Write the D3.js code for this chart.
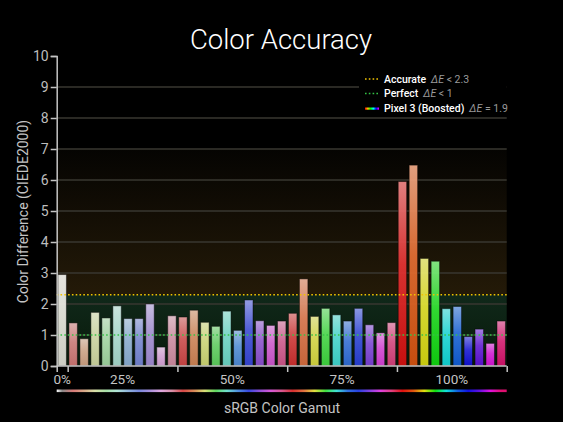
<!DOCTYPE html>
<html>
<head>
<meta charset="utf-8">
<script src="https://cdn.jsdelivr.net/npm/d3@7"></script>
<style>
  html, body { margin: 0; padding: 0; background: #000; }
  svg { display: block; }
  text { font-family: Roboto, "Noto Sans", sans-serif; }
</style>
</head>
<body>
<svg id="chart" width="563" height="422"></svg>
<script>
// ---------- data ----------
const gamutGroups = ["0%", "25%", "50%", "75%", "100%"];
const groupSizes = [1, 10, 10, 10, 10];
const deltaE = [
  2.95,
  1.39, 0.88, 1.73, 1.55, 1.94, 1.53, 1.53, 2.00, 0.61, 1.62,
  1.58, 1.80, 1.41, 1.28, 1.77, 1.15, 2.13, 1.46, 1.31, 1.45,
  1.70, 2.81, 1.60, 1.86, 1.65, 1.45, 1.86, 1.33, 1.07, 1.40,
  5.95, 6.48, 3.47, 3.38, 1.85, 1.92, 0.95, 1.19, 0.73, 1.45
];
const barColors = [
  "#e6e6dc",
  "#d87a78", "#d8a888", "#d8e0a8", "#a8e0a8", "#b0e4d8", "#90b4dc", "#7888dc", "#a890dc", "#e0a8e0", "#d890a8",
  "#d84848", "#d88858", "#d8e078", "#60d860", "#70e0d0", "#5090e0", "#3848e0", "#9050d8", "#d858d8", "#d85890",
  "#d83030", "#e07040", "#e0e040", "#40e040", "#40e0d8", "#3070e0", "#2840e0", "#8040e0", "#e040e0", "#e04080",
  "#e01010", "#e05510", "#e0e010", "#10e010", "#10e0e0", "#1060e0", "#1010e0", "#6010e0", "#e010e0", "#e01070"
];
const yTicks = [0, 1, 2, 3, 4, 5, 6, 7, 8, 9, 10];
const gridValues = [1, 2, 3, 4, 5, 6, 7, 8, 9];
const thresholds = { accurate: 2.3, perfect: 1 };
const legendItems = [
  { name: "Accurate", metric: " < 2.3", kind: "accurate" },
  { name: "Perfect", metric: " < 1", kind: "perfect" },
  { name: "Pixel 3 (Boosted)", metric: " = 1.9", kind: "device" }
];
const rainbow = ["#ff0000", "#ffcc00", "#00ff00", "#00ffff", "#0000ff", "#ff00ff"];

// ---------- layout ----------
const svg = d3.select("#chart");
const pL = 56.7, pR = 506.7, pT = 56, pB = 366;
const ids = deltaE.map((d, i) => "b" + i);

const y = d3.scaleLinear().domain([0, 10]).range([pB, pT]);
const x = d3.scaleBand().domain(ids).range([pL, pR]).paddingInner(0.23).paddingOuter(0.115);
const xi = d3.scaleLinear().domain([0, deltaE.length]).range([pL, pR]);

const defs = svg.append("defs");

// background zones
const gBrown = defs.append("linearGradient").attr("id", "bgBrown").attr("x1", 0).attr("x2", 0).attr("y1", 0).attr("y2", 1);
gBrown.append("stop").attr("offset", 0).attr("stop-color", "#050402");
gBrown.append("stop").attr("offset", 1).attr("stop-color", "#241a08");
const gGreen = defs.append("linearGradient").attr("id", "bgGreen").attr("x1", 0).attr("x2", 0).attr("y1", 0).attr("y2", 1);
gGreen.append("stop").attr("offset", 0).attr("stop-color", "#10281a");
gGreen.append("stop").attr("offset", 1).attr("stop-color", "#081a0a");

svg.append("rect").attr("x", pL).attr("width", pR - pL)
  .attr("y", y(7)).attr("height", y(thresholds.accurate) - y(7)).attr("fill", "url(#bgBrown)");
svg.append("rect").attr("x", pL).attr("width", pR - pL)
  .attr("y", y(thresholds.accurate)).attr("height", y(0) - y(thresholds.accurate)).attr("fill", "url(#bgGreen)");

// gridlines
svg.append("g").selectAll("line").data(gridValues).join("line")
  .attr("x1", pL).attr("x2", pR)
  .attr("y1", d => y(d)).attr("y2", d => y(d))
  .attr("stroke", "#393730").attr("stroke-width", 1.5);

// bar gradients
deltaE.forEach((d, i) => {
  const g = defs.append("linearGradient").attr("id", "bg" + i)
    .attr("x1", 0).attr("x2", 0).attr("y1", 0).attr("y2", 1);
  g.append("stop").attr("offset", 0).attr("stop-color", d3.interpolateRgb(barColors[i], "#ffffff")(0.5));
  g.append("stop").attr("offset", 0.45).attr("stop-color", d3.interpolateRgb(barColors[i], "#ffffff")(0.15));
  g.append("stop").attr("offset", 1).attr("stop-color", d3.color(barColors[i]).darker(0.15));
});

// bars
svg.append("g").selectAll("rect").data(deltaE).join("rect")
  .attr("x", (d, i) => x(ids[i]))
  .attr("width", x.bandwidth())
  .attr("y", d => y(d))
  .attr("height", d => y(0) - y(d))
  .attr("fill", (d, i) => `url(#bg${i})`)
  .attr("fill-opacity", 0.93)
  .attr("stroke", "rgba(0,0,0,0.45)")
  .attr("stroke-width", 1);

// reference lines
svg.append("line").attr("x1", pL).attr("x2", pR)
  .attr("y1", y(thresholds.accurate)).attr("y2", y(thresholds.accurate))
  .attr("stroke", "#f2c400").attr("stroke-width", 1.6).attr("stroke-dasharray", "1.6,2.2");
svg.append("line").attr("x1", pL).attr("x2", pR)
  .attr("y1", y(thresholds.perfect)).attr("y2", y(thresholds.perfect))
  .attr("stroke", "#34c246").attr("stroke-width", 1.6).attr("stroke-dasharray", "1.6,2.2");

// y axis
const yAxis = svg.append("g").attr("transform", `translate(${pL},0)`)
  .call(d3.axisLeft(y).tickValues(yTicks).tickSize(6).tickPadding(2).tickFormat(d3.format("d")));
yAxis.select(".domain").attr("stroke", "#c4c4c4").attr("stroke-width", 1.5);
yAxis.selectAll(".tick line").attr("stroke", "#c4c4c4").attr("stroke-width", 1.5);
yAxis.selectAll(".tick text").attr("fill", "#bdbdbd").attr("font-size", 14).attr("font-family", "Roboto, sans-serif");

// x axis: group boundaries
const bounds = [0];
groupSizes.forEach(s => bounds.push(bounds[bounds.length - 1] + s));
const xAxis = svg.append("g").attr("transform", `translate(0,${pB})`)
  .call(d3.axisBottom(xi).tickValues(bounds).tickSize(6).tickFormat(""));
xAxis.select(".domain").attr("stroke", "#c4c4c4").attr("stroke-width", 1.5).attr("d", `M${pL},0H${pR}`);
xAxis.selectAll(".tick line").attr("stroke", "#c4c4c4").attr("stroke-width", 1.5);

svg.append("g").selectAll("text").data(gamutGroups).join("text")
  .attr("x", (d, i) => (xi(bounds[i]) + xi(bounds[i + 1])) / 2)
  .attr("y", 383.5)
  .attr("text-anchor", "middle")
  .attr("fill", "#c4c4c4").attr("font-size", 13.5)
  .text(d => d);

// gamut colour strip
const gStrip = defs.append("linearGradient").attr("id", "strip")
  .attr("gradientUnits", "userSpaceOnUse").attr("x1", pL).attr("x2", pR).attr("y1", 0).attr("y2", 0);
gStrip.append("stop").attr("offset", 0).attr("stop-color", "#ffffff");
deltaE.forEach((d, i) => {
  const cx = x(ids[i]) + x.bandwidth() / 2;
  gStrip.append("stop").attr("offset", (cx - pL) / (pR - pL)).attr("stop-color", i === 0 ? "#888888" : barColors[i]);
});
svg.append("rect").attr("x", pL).attr("width", pR - pL).attr("y", 389.5).attr("height", 2.6).attr("fill", "url(#strip)");

// axis titles
svg.append("text").attr("x", 282).attr("y", 413).attr("text-anchor", "middle")
  .attr("fill", "#c4c4c4").attr("font-size", 14).text("sRGB Color Gamut");
svg.append("text").attr("transform", "translate(28,211.5) rotate(-90)").attr("text-anchor", "middle")
  .attr("fill", "#c4c4c4").attr("font-size", 14).text("Color Difference (CIEDE2000)");

// title
svg.append("text").attr("x", 281).attr("y", 48.5).attr("text-anchor", "middle")
  .attr("fill", "#ffffff").attr("font-size", 27.5).attr("font-weight", 300).text("Color Accuracy");

// legend
const lg = svg.append("g");
lg.append("rect").attr("x", 359).attr("y", 66).attr("width", pR - 359).attr("height", 50).attr("fill", "#000");
const gRain = defs.append("linearGradient").attr("id", "rain");
rainbow.forEach((c, i) => gRain.append("stop").attr("offset", i / (rainbow.length - 1)).attr("stop-color", c));
const rowY = [79, 93.5, 108.5];
legendItems.forEach((it, i) => {
  const ly = rowY[i];
  if (it.kind === "device") {
    lg.append("rect").attr("x", 365).attr("y", ly - 1).attr("width", 14).attr("height", 2.2).attr("fill", "url(#rain)");
  } else {
    lg.append("line").attr("x1", 365).attr("x2", 379).attr("y1", ly).attr("y2", ly).attr("stroke-width", 1.6)
      .attr("stroke", it.kind === "accurate" ? "#f2c400" : "#34c246").attr("stroke-dasharray", "1.6,2.2");
  }
  const t = lg.append("text").attr("x", 384).attr("y", ly + 3.8).attr("font-size", 10.5);
  t.append("tspan").attr("fill", "#ffffff").attr("font-weight", 500).text(it.name);
  t.append("tspan").attr("fill", "#9a9a9a").attr("dx", 5).attr("font-style", "italic").text("ΔE");
  t.append("tspan").attr("fill", "#9a9a9a").text(it.metric);
});
</script>
</body>
</html>
